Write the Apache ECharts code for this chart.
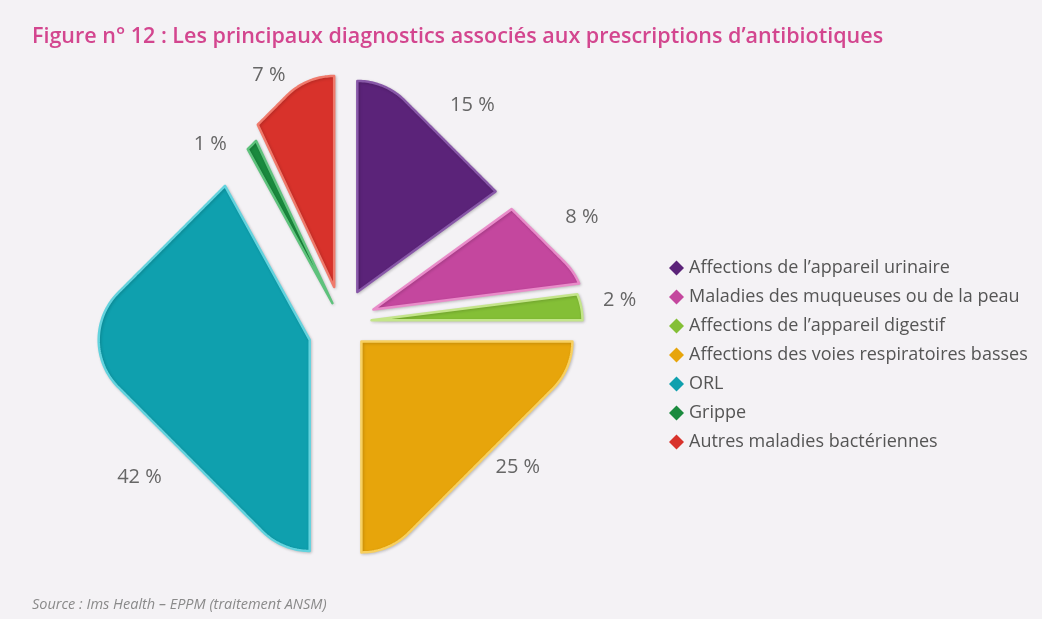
<!DOCTYPE html>
<html>
<head>
<meta charset="utf-8">
<script src="https://cdn.jsdelivr.net/npm/echarts@6/dist/echarts.min.js"></script>
<style>
  html, body { margin: 0; padding: 0; background: #f4f2f5; }
  #chart { width: 1042px; height: 619px; }
</style>
</head>
<body>
<div id="chart"></div>
<script>
// Diagnostic categories and their share of antibiotic prescriptions (%)
const categories = [
  'Affections de l’appareil urinaire',
  'Maladies des muqueuses ou de la peau',
  'Affections de l’appareil digestif',
  'Affections des voies respiratoires basses',
  'ORL',
  'Grippe',
  'Autres maladies bactériennes'
];
const shares = [15, 8, 2, 25, 42, 1, 7];
const valueLabels = shares.map(v => v + ' %');

// Styling per slice
const fillColors = ['#5b2379', '#c4479e', '#84bf36', '#e7a50b', '#0fa0ae', '#1a8a3e', '#d8322b'];
const edgeColors = ['#8858a8', '#e98bc9', '#c4e58a', '#f8d060', '#63d3de', '#5ec27c', '#f07a6c'];
// explode distance (in units of the radius) and optional explode direction (degrees)
const explodeDist = [0.16, 0.16, 0.14, 0.13, 0.175, 0.10, 0.17];
const explodeDir = [null, null, null, null, 241, null, null];
// label placement: direction (degrees, clockwise from top) and distance (radius units)
const labelDir = [31, 66.5, 85.5, 129.5, 232.5, 323.5, 343.5];
const labelDist = [1.20, 1.24, 1.32, 1.08, 1.21, 1.05, 1.22];

// rounded-diamond outline: corners on the axes, sides along the diagonals
const CORE = 0.683, ROUND = 0.317;
function sdf(x, y) {
  const px = Math.abs(x), py = Math.abs(y);
  const t = Math.max(0, Math.min(1, (CORE - px + py) / (2 * CORE)));
  const qx = CORE - CORE * t, qy = CORE * t;
  let d = Math.hypot(px - qx, py - qy);
  if (px + py < CORE) d = -d;
  return d - ROUND;
}
function outlineRadius(deg) {
  const a = deg * Math.PI / 180;
  const dx = Math.sin(a), dy = Math.cos(a);
  let lo = 0, hi = 1.5;
  for (let k = 0; k < 40; k++) {
    const m = (lo + hi) / 2;
    if (sdf(dx * m, dy * m) < 0) lo = m; else hi = m;
  }
  return lo;
}

const total = shares.reduce((s, v) => s + v, 0);
const starts = [];
shares.reduce((acc, v, i) => { starts[i] = acc; return acc + v; }, 0);

const series = categories.map((name, i) => ({
  type: 'custom',
  name: name,
  coordinateSystem: 'polar',
  itemStyle: { color: fillColors[i] },
  data: [[0, 0]],
  silent: true,
  renderItem: function (params, api) {
    const toAngle = deg => deg / 360 * total;
    const startDeg = starts[i] / total * 360;
    const endDeg = (starts[i] + shares[i]) / total * 360;
    const midDeg = (startDeg + endDeg) / 2;
    const c0 = api.coord([0, 0]);
    const dir = explodeDir[i] != null ? explodeDir[i] : midDeg;
    const apex = api.coord([explodeDist[i], toAngle(dir)]);
    const pts = [apex];
    const steps = Math.max(4, Math.ceil((endDeg - startDeg) / 0.5));
    for (let k = 0; k <= steps; k++) {
      const deg = startDeg + (endDeg - startDeg) * k / steps;
      const p = api.coord([outlineRadius(deg), toAngle(deg)]);
      pts.push([p[0] - c0[0] + apex[0], p[1] - c0[1] + apex[1]]);
    }
    const lp = api.coord([labelDist[i], toAngle(labelDir[i])]);
    return {
      type: 'group',
      children: [
        {
          type: 'polygon',
          shape: { points: pts },
          style: {
            fill: fillColors[i],
            stroke: edgeColors[i],
            lineWidth: 2.5,
            lineJoin: 'round',
            shadowBlur: 3,
            shadowColor: 'rgba(0,0,0,0.18)',
            shadowOffsetX: 1,
            shadowOffsetY: 1
          }
        },
        {
          type: 'text',
          x: lp[0],
          y: lp[1],
          style: {
            text: valueLabels[i],
            fill: '#666666',
            font: '500 20px "Open Sans"',
            align: 'center',
            verticalAlign: 'middle'
          }
        }
      ]
    };
  }
}));

const chart = echarts.init(document.getElementById('chart'), null, { renderer: 'canvas' });
chart.setOption({
  backgroundColor: '#f4f2f5',
  animation: false,
  title: [
    {
      text: 'Figure n° 12 : Les principaux diagnostics associés aux prescriptions d’antibiotiques',
      left: 27,
      top: 21,
      textStyle: { fontFamily: 'Open Sans', fontSize: 21.5, fontWeight: 600, color: '#d3468f' }
    },
    {
      text: 'Source : Ims Health – EPPM (traitement ANSM)',
      left: 27,
      top: 592,
      textStyle: { fontFamily: 'Open Sans', fontSize: 14.5, fontWeight: 'normal', fontStyle: 'italic', color: '#8a8a8a' }
    }
  ],
  legend: {
    orient: 'vertical',
    left: 669,
    top: 259,
    padding: 0,
    icon: 'diamond',
    itemWidth: 15,
    itemHeight: 15,
    itemGap: 11,
    selectedMode: false,
    textStyle: { fontFamily: 'Open Sans', fontSize: 18, color: '#555555', lineHeight: 18 },
    data: categories
  },
  polar: { center: [342, 322], radius: 211 * 1.4 },
  radiusAxis: { min: 0, max: 1.4, show: false },
  angleAxis: { min: 0, max: total, startAngle: 90, clockwise: true, show: false },
  series: series
});
</script>
</body>
</html>
